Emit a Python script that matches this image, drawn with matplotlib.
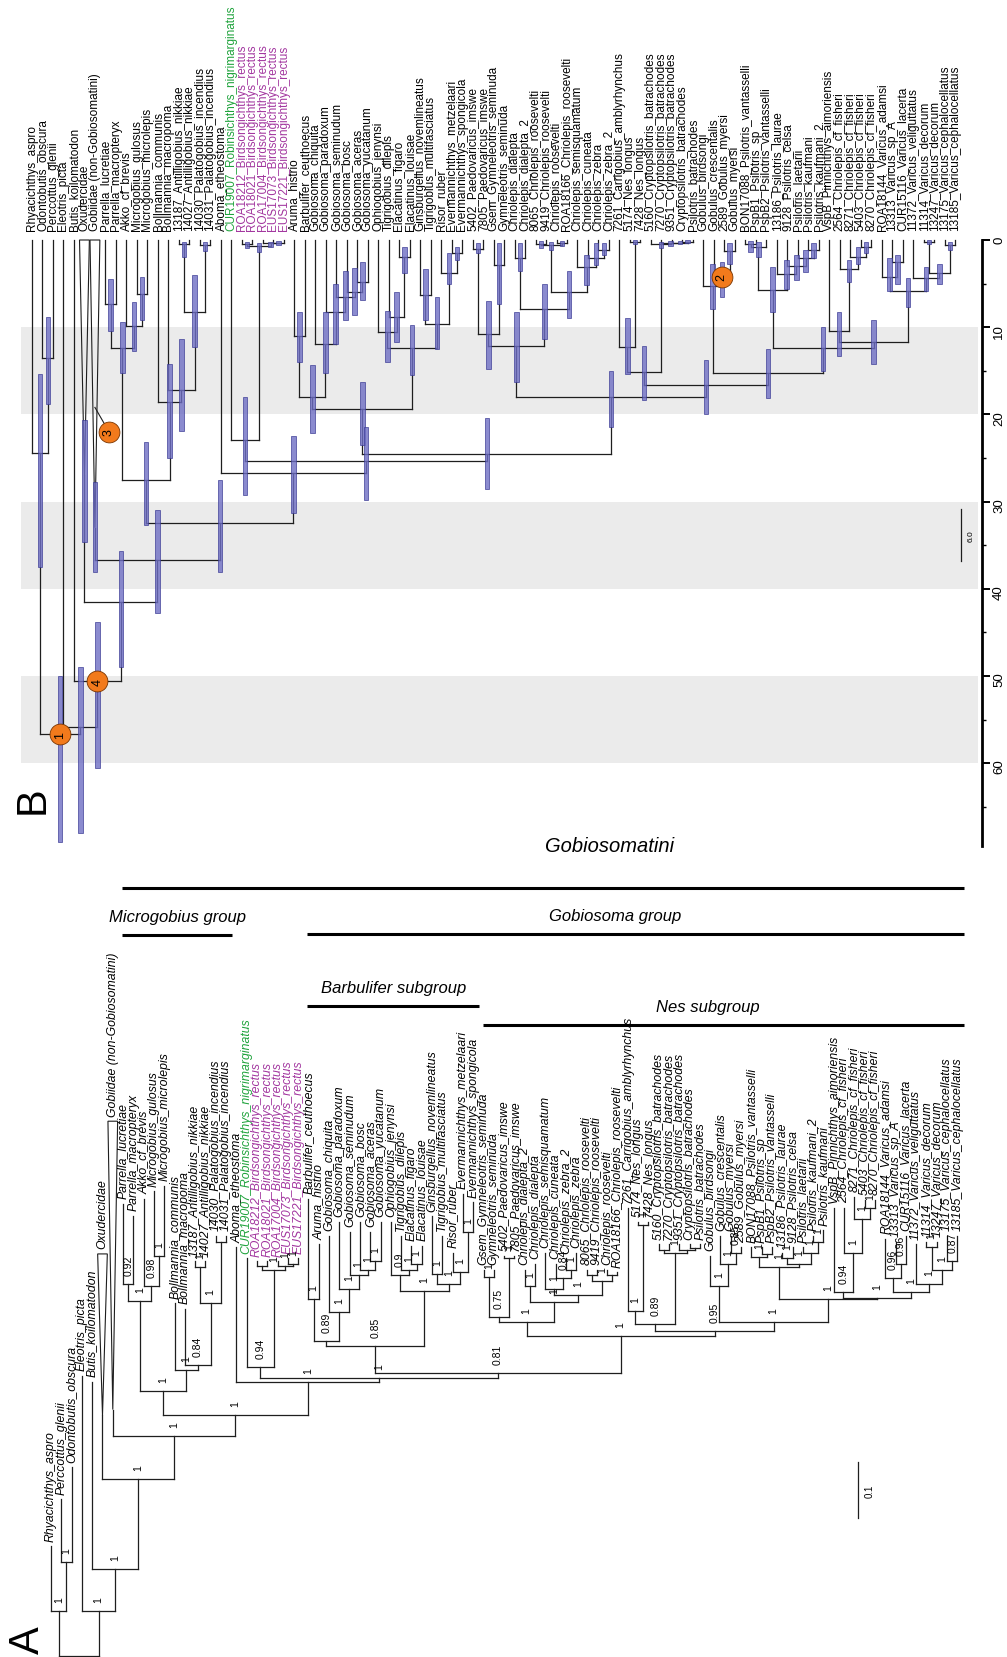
import matplotlib
matplotlib.use("Agg")
import matplotlib.pyplot as plt
from matplotlib.patches import Polygon, Rectangle

plt.rcParams["font.family"] = ["Liberation Sans", "DejaVu Sans"]

# ---------------------------------------------------------------------------
# Panel B: time tree. Internal nodes ")age/hpd_low/hpd_high" (Ma);
# collapsed clades "name:crown_age/hpd_low/hpd_high".
b_outgroups = ("(Rhyacichthys_aspro,(Odontobutis_obscura,Perccottus_glenii)13.5/8.8/18.8)"
               "24.4/15.4/37.5")
b_microgobius = (
    "(((Parrella_lucretiae,Parrella_macropteryx)7.3/4.5/10.4,"
    "(Akko_cf_brevis,(Microgobius_gulosus,Microgobius_microlepis)6.2/4.2/9.2)9.9/7.1/12.7)12.4/9.4/15.3,"
    "(Bollmannia_communis,(Bollmannia_macropoma,((13187_Antilligobius_nikkiae,"
    "14027_Antilligobius_nikkiae)0.5/0.2/1.9,(14030_Palatogobius_incendius,"
    "14031_Palatogobius_incendius)0.6/0.2/1.3)8.2/4/12.3)17.2/11.3/21.9)18.6/14.2/25)27.5/23.2/32.7")
b_birdsong = (
    "(CUR19007_Robinsichthys_nigrimarginatus,((ROA18212_Birdsongichthys_rectus,"
    "ROA18021_Birdsongichthys_rectus)0.5/0.2/0.9,(ROA17004_Birdsongichthys_rectus,"
    "(EUS17073_Birdsongichthys_rectus,EUS17221_Birdsongichthys_rectus)0.3/0.1/0.6)0.4/0.2/0.8)"
    "0.7/0.3/1.4)22.9/18/29.2")
b_barbulifer = (
    "(((Aruma_histrio,Barbulifer_ceuthoecus)11/8.2/14,(Gobiosoma_chiquita,(Gobiosoma_paradoxum,"
    "(Gobiosoma_seminudum,(Gobiosoma_bosc,(Gobiosoma_aceras,Gobiosoma_yucatanum)4.8/2.5/6.9)"
    "6/3.2/8.6)6.5/3.5/9.2)8.3/5.1/11.9)11.9/8.2/15.2)18/14.3/22.1,"
    "((Ophiogobius_jenynsi,(Tigrigobius_dilepis,(Elacatinus_figaro,Elacatinus_louisae)2/0.8/3.8)"
    "8.8/6/11.7)10.6/8.1/14,((Ginsburgellus_novemlineatus,Tigrigobius_multifasciatus)6.3/3.3/9.2,"
    "(Risor_ruber,(Evermannichthys_metzelaari,Evermannichthys_spongicola)1.5/0.8/2.3)3.8/1.5/5)"
    "9.6/6.5/12.5)12.4/9.8/15.5)19.4/16.3/23.5")
b_nes = (
    "((((5402_Paedovaricus_imswe,7805_Paedovaricus_imswe)1/0.3/1.5,"
    "(Gsem_Gymneleotris_seminuda,Gymneleotris_seminuda)2.9/0.3/7.3)10.8/7/14.8,"
    "((Chriolepis_dialepta,Chriolepis_dialepta_2)2.1/0.4/3.6,"
    "(((8065_Chriolepis_roosevelti,9419_Chriolepis_roosevelti)0.5/0.1/0.9,"
    "(Chriolepis_roosevelti,ROA18166_Chriolepis_roosevelti)0.3/0.1/0.7)0.6/0.2/1.1,"
    "(Chriolepis_semisquamatum,(Chriolepis_cuneata,(Chriolepis_zebra,Chriolepis_zebra_2)1.2/0.4/1.7)"
    "2.1/0.4/2.9)3.1/1.7/5.2)6/3.5/9)7.9/5.1/11.3)12.1/8.3/16.3,"
    "(((7261_Carrigobius_amblyrhynchus,(5174_Nes_longus,7428_Nes_longus)0.2/0/0.5)12.3/9/15.4,"
    "(5160_Cryptopsilotris_batrachodes,(7270_Cryptopsilotris_batrachodes,(9351_Cryptopsilotris_batrachodes,"
    "(Cryptopsilotris_batrachodes,Psilotris_batrachodes)0.2/0/0.4)0.3/0.1/0.5)0.4/0.1/0.7)0.5/0.2/0.9)"
    "15.1/12.1/18.3,"
    "((Gobulus_birdsongi,(Gobulus_crescentalis,(2589_Gobulus_myersi,Gobulus_myersi)1.3/0.3/2.7)"
    "4.2/2.5/6.5)5.3/2.8/7.9,"
    "((((BON17088_Psilotris_vantasselli,PspB1_Psilotris_sp)0.5/0.1/1.4,PspB2_Psilotris_vantasselli)"
    "0.8/0.2/1.9,(13186_Psilotris_laurae,(9128_Psilotris_celsa,(Psilotris_laetarii,(Psilotris_kaufmani,"
    "Psilotris_kaufmani_2)1.2/0.4/2.1)2.1/1.2/3.7)3/1.7/4.6)3.9/2.3/5.6)5.75/3.1/8.3,"
    "((VspB_Pinnichthys_aimoriensis,(2564_Chriolepis_cf_fisheri,(8271_Chriolepis_cf_fisheri,"
    "(5403_Chriolepis_cf_fisheri,8270_Chriolepis_cf_fisheri)0.8/0.2/1.5)1.9/0.8/2.7)3.3/2.3/4.8)"
    "10.4/8.3/13.3,"
    "((ROA18144_Varicus_adamsi,(13313_Varicus_sp_A,CUR15116_Varicus_lacerta)2.5/1.7/5)4.2/2.1/5.8,"
    "(11372_Varicus_veliguttatus,((11314_Varicus_decorum,13247_Varicus_decorum)0.2/0/0.5,"
    "(13175_Varicus_cephalocellatus,13185_Varicus_cephalocellatus)0.6/0.2/1.2)3.75/2.7/5)4.4/3.1/5.8)"
    "5.8/4.4/7.7)11.7/9.2/14.2)12.4/10/15)15.2/12.5/18.1)16.6/13.75/19.9)18/15/21.5")

tree_b = (
    "(" + b_outgroups + ",(Eleotris_picta,(Butis_koilomatodon,(Oxudercidae:27/20.6/34.6,"
    "('Gobiidae (non-Gobiosomatini)':33/27.7/38.1,(" + b_microgobius + ",(Aboma_etheostoma,("
    + b_birdsong + ",(" + b_barbulifer + "," + b_nes + ")24.5/20.4/28.5)25.4/21.5/29.8)26.7/22.5/31.3)"
    "32.5/27.5/38.1)36.7/31/42.8)41.5/35.7/49)50.6/43.8/60.6)55.8/49/68)56.7/50/69")

# ---------------------------------------------------------------------------
# Panel A: phylogram. Internal nodes ")depth/posterior" (subst./site from root);
# tips "name:tip_depth", collapsed clades "name:tip_depth/crown_depth".
a_outgroups = ("(Rhyacichthys_aspro:0.196,(Perccottus_glenii:0.28,Odontobutis_obscura:0.337)0.168/1)0.08/1")
a_microgobius = (
    "(((Parrella_lucretiae:0.807,Parrella_macropteryx:0.786)0.664/0.92,"
    "(Akko_cf_brevis:0.816,(Microgobius_gulosus:0.83,Microgobius_microlepis:0.84)0.714/1)0.66/0.98)0.634/1,"
    "(Bollmannia_communis:0.63,(Bollmannia_macropoma:0.62,((13187_Antilligobius_nikkiae:0.705,"
    "14027_Antilligobius_nikkiae:0.705)0.695/1,(14030_Palatogobius_incendius:0.75,"
    "14031_Palatogobius_incendius:0.75)0.74)0.63/1)0.52/0.84)0.51/1)0.473/1")
a_birdsong = (
    "(CUR19007_Robinsichthys_nigrimarginatus:0.71,((ROA18212_Birdsongichthys_rectus:0.705,"
    "ROA18021_Birdsongichthys_rectus:0.705)0.697,(ROA17004_Birdsongichthys_rectus:0.705,"
    "(EUS17073_Birdsongichthys_rectus:0.71,EUS17221_Birdsongichthys_rectus:0.71)0.70/1)0.697/1)"
    "0.69/1)0.516/0.94")
a_barbulifer = (
    "(((Barbulifer_ceuthoecus:0.816,Aruma_histrio:0.735)0.637/1,"
    "(Gobiosoma_chiquita:0.75,(Gobiosoma_paradoxum:0.775,(Gobiosoma_seminudum:0.757,(Gobiosoma_bosc:0.775,"
    "(Gobiosoma_aceras:0.757,Gobiosoma_yucatanum:0.775)0.705/1)0.69/1)0.68/1)0.655/1)0.614/1)0.562/0.89,"
    "((Ophiogobius_jenynsi:0.775,(Tigrigobius_dilepis:0.75,(Elacatinus_figaro:0.732,"
    "Elacatinus_louisae:0.732)0.70/1)0.69/1)0.68/0.9,((Ginsburgellus_novemlineatus:0.785,"
    "Tigrigobius_multifasciatus:0.75)0.682/1,(Risor_ruber:0.72,(Evermannichthys_metzelaari:0.825,"
    "Evermannichthys_spongicola:0.81)0.757/1)0.686/1)0.665/1)0.652/1)0.554/0.85")
a_nes = (
    "((((Gsem_Gymneleotris_seminuda:0.69,Gymneleotris_seminuda:0.69)0.677/1,"
    "(5402_Paedovaricus_imswe:0.715,7805_Paedovaricus_imswe:0.715)0.71/1)0.605/0.75,"
    "((Chriolepis_dialepta_2:0.69,Chriolepis_dialepta:0.70)0.66/1,((Chriolepis_semisquamatum:0.72,"
    "(Chriolepis_cuneata:0.70,(Chriolepis_zebra_2:0.71,Chriolepis_zebra:0.72)0.69/1)0.675/0.84)0.655/1,"
    "((8065_Chriolepis_roosevelti:0.69,9419_Chriolepis_roosevelti:0.69)0.68,(Chriolepis_roosevelti:0.69,"
    "ROA18166_Chriolepis_roosevelti:0.685)0.68)0.67/1)0.645/1)0.632/1)0.596/1,"
    "(((7261_Carrigobius_amblyrhynchus:0.80,(5174_Nes_longus:0.775,7428_Nes_longus:0.775)0.77/1)0.616/1,"
    "((5160_Cryptopsilotris_batrachodes:0.735,7270_Cryptopsilotris_batrachodes:0.735)0.725,"
    "(9351_Cryptopsilotris_batrachodes:0.735,(Cryptopsilotris_batrachodes:0.735,"
    "Psilotris_batrachodes:0.735)0.728)0.725)0.72/1)0.593/0.89,"
    "((Gobulus_birdsongi:0.715,(Gobulus_crescentalis:0.75,(Gobulus_myersi:0.75,"
    "2589_Gobulus_myersi:0.73)0.72/0.85)0.70/1)0.66/1,"
    "(((BON17088_Psilotris_vantasselli:0.73,(PspB1_Psilotris_sp:0.73,PspB2_Psilotris_vantasselli:0.73)0.718)"
    "0.712/1,((13186_Psilotris_laurae:0.72,9128_Psilotris_celsa:0.73)0.71/1,(Psilotris_laetarii:0.73,"
    "(Psilotris_kaufmani_2:0.75,Psilotris_kaufmani:0.76)0.74/1)0.72/1)0.70/1)0.695/1,"
    "((VspB_Pinnichthys_aimoriensis:0.80,(2564_Chriolepis_cf_fisheri:0.80,(8271_Chriolepis_cf_fisheri:0.82,"
    "(5403_Chriolepis_cf_fisheri:0.815,8270_Chriolepis_cf_fisheri:0.815)0.80/1)0.78/1)0.72/1)0.65/0.94,"
    "((ROA18144_Varicus_adamsi:0.745,(13313_Varicus_sp_A:0.74,CUR15116_Varicus_lacerta:0.75)0.70/0.96)"
    "0.675/0.96,(11372_Varicus_veliguttatus:0.735,((11314_Varicus_decorum:0.74,13247_Varicus_decorum:0.74)"
    "0.73/1,(13175_Varicus_cephalocellatus:0.75,13185_Varicus_cephalocellatus:0.75)0.705/0.87)0.69/1)"
    "0.665/1)0.65/1)0.64/1)0.637/1)0.596/1)0.58/0.95)0.571/1")

tree_a = (
    "(" + a_outgroups + ",(Eleotris_picta:0.5,(Butis_koilomatodon:0.49,(Oxudercidae:0.718/0.43,"
    "('Gobiidae (non-Gobiosomatini)':0.955/0.44,(" + a_microgobius + ",(Aboma_etheostoma:0.73,("
    + a_birdsong + ",(" + a_barbulifer + "," + a_nes + ")0.505/0.81)0.496/1)0.49/1)0.43/1)"
    "0.393/1)0.316/1)0.155/1)0.08/1)0")

bands_b = [(10, 20), (30, 40), (50, 60)]
time_ticks = [0, 10, 20, 30, 40, 50, 60]
scale_b = 6.0
scale_a = 0.1
calibrations = [("1", "Rhyacichthys_aspro", "13185_Varicus_cephalocellatus"),
                ("4", "Butis_koilomatodon", "13185_Varicus_cephalocellatus"),
                ("2", "Gobulus_crescentalis", "Gobulus_myersi")]
calib_collapsed = ("3", "Gobiidae (non-Gobiosomatini)", 19.2)
groups = [("Gobiosomatini", "Parrella_lucretiae", "13185_Varicus_cephalocellatus"),
          ("Microgobius group", "Parrella_lucretiae", "14031_Palatogobius_incendius"),
          ("Gobiosoma group", "Barbulifer_ceuthoecus", "13185_Varicus_cephalocellatus"),
          ("Barbulifer subgroup", "Barbulifer_ceuthoecus", "Evermannichthys_spongicola"),
          ("Nes subgroup", "Gsem_Gymneleotris_seminuda", "13185_Varicus_cephalocellatus")]
# layout of the group bars: bar level (depth units) and label shift along x (tips)
group_levels = [1.371, 1.2875, 1.289, 1.161, 1.127]
group_label_shift = [6.5, 0, -2, 0, -1.5]
green_tips = ["CUR19007_Robinsichthys_nigrimarginatus"]
purple_genus = "Birdsongichthys"

LINE = "#1e1e1e"
HPD_FACE = "#6e6ec4"
HPD_EDGE = "#3a3a94"


def parse_tree(text):
    pos = 0

    def annotation():
        nonlocal pos
        start = pos
        while pos < len(text) and text[pos] not in ",()":
            pos += 1
        chunk = text[start:pos]
        return [float(v) for v in chunk.split("/")] if chunk else []

    def clade():
        nonlocal pos
        if text[pos] == "(":
            pos += 1
            kids = [clade()]
            while text[pos] == ",":
                pos += 1
                kids.append(clade())
            pos += 1
            return {"kids": kids, "ann": annotation()}
        if text[pos] == "'":
            end = text.index("'", pos + 1)
            name = text[pos + 1:end]
            pos = end + 1
        else:
            start = pos
            while text[pos] not in ",():":
                pos += 1
            name = text[start:pos]
        ann = []
        if text[pos] == ":":
            pos += 1
            ann = annotation()
        return {"name": name, "ann": ann}

    return clade()


def place(node, counter):
    if "kids" in node:
        for k in node["kids"]:
            place(k, counter)
        node["x"] = (node["kids"][0]["x"] + node["kids"][-1]["x"]) / 2
    else:
        node["x"] = counter[0]
        counter[0] += 1


def tips_of(node):
    if "name" in node:
        return [node]
    out = []
    for k in node["kids"]:
        out += tips_of(k)
    return out


def mrca(node, a, b):
    for k in node.get("kids", []):
        names = [t["name"] for t in tips_of(k)]
        if a in names and b in names:
            return mrca(k, a, b)
    return node


def tip_color(name):
    if name in green_tips:
        return "#1fa33c"
    if purple_genus in name:
        return "#a2369f"
    return "black"


def hpd(ax, x, lo, hi):
    ax.add_patch(Rectangle((x - 0.21, lo), 0.42, hi - lo, facecolor=HPD_FACE, edgecolor=HPD_EDGE,
                           lw=0.6, alpha=0.8, zorder=3, clip_on=False))


def draw_b(ax, node, parent_age=None):
    x, ann = node["x"], node["ann"]
    age = ann[0] if ann else 0.0
    if parent_age is not None:
        ax.plot([x, x], [parent_age, age], color=LINE, lw=0.9, zorder=2, clip_on=False)
    if "kids" in node:
        ax.plot([node["kids"][0]["x"], node["kids"][-1]["x"]], [age, age], color=LINE, lw=0.9,
                zorder=2, clip_on=False)
        for k in node["kids"]:
            draw_b(ax, k, age)
        hpd(ax, x, ann[1], ann[2])
    else:
        if ann:
            ax.add_patch(Polygon([(x, age), (x - 0.47, 0), (x + 0.47, 0)], closed=True, fill=False,
                                 edgecolor=LINE, lw=0.8, zorder=2))
            hpd(ax, x, ann[1], ann[2])
        ax.text(x, -1.1, node["name"], rotation=90, ha="center", va="bottom", fontsize=8.5,
                color=tip_color(node["name"]))


def draw_a(ax, node, parent_depth=None):
    x, ann = node["x"], node["ann"]
    if "kids" in node:
        depth = ann[0]
    else:
        depth = ann[1] if len(ann) > 1 else ann[0]
    if parent_depth is not None:
        ax.plot([x, x], [parent_depth, depth], color=LINE, lw=0.9, zorder=2)
    if "kids" in node:
        ax.plot([node["kids"][0]["x"], node["kids"][-1]["x"]], [depth, depth], color=LINE, lw=0.9,
                zorder=2)
        for k in node["kids"]:
            draw_a(ax, k, depth)
        if len(ann) > 1:
            ax.text(x, depth + 0.016, f"{ann[1]:g}", rotation=90, ha="center", va="bottom",
                    fontsize=7.5)
    else:
        top = ann[0]
        if len(ann) > 1:
            ax.add_patch(Polygon([(x, depth), (x - 0.47, top), (x + 0.47, top)], closed=True,
                                 fill=False, edgecolor=LINE, lw=0.8, zorder=2))
        ax.text(x, top + 0.01, node["name"], rotation=90, ha="center", va="bottom", fontsize=8.8,
                fontstyle="italic", color=tip_color(node["name"]))


root_b = parse_tree(tree_b)
root_a = parse_tree(tree_a)
place(root_b, [0])
place(root_a, [0])
n_tips = len(tips_of(root_b))

W, H = 1007, 1658
fig = plt.figure(figsize=(W / 100, H / 100), dpi=100)

# ---------------- panel B ----------------
axb = fig.add_axes([0, 1 - 847 / H, 982 / W, 847 / H])
axb.patch.set_alpha(0)
axb.set_xlim(-3.05, 90.56)
axb.set_ylim(69.5, -27.64)
for lo, hi in bands_b:
    axb.add_patch(Rectangle((-1.05, lo), n_tips + 2.2, hi - lo, facecolor="#ebebeb", lw=0, zorder=0))
draw_b(axb, root_b)

for label, a, b in calibrations:
    nd = mrca(root_b, a, b)
    axb.plot(nd["x"], nd["ann"][0], "o", ms=15, mfc="#f27a1c", mec="#7a3500", mew=0.6, zorder=6)
    axb.text(nd["x"], nd["ann"][0], label, rotation=90, ha="center", va="center", fontsize=9, zorder=7)
lab, taxon, at_age = calib_collapsed
tx = [t for t in tips_of(root_b) if t["name"] == taxon][0]["x"]
cx, cy = tx + 1.34, at_age + 2.8
axb.plot([tx, cx], [at_age, cy], color=LINE, lw=0.8, zorder=5)
axb.plot(cx, cy, "o", ms=15, mfc="#f27a1c", mec="#7a3500", mew=0.6, zorder=6)
axb.text(cx, cy, lab, rotation=90, ha="center", va="center", fontsize=9, zorder=7)

sx = n_tips - 0.44
axb.plot([sx, sx], [30.8, 30.8 + scale_b], color=LINE, lw=0.9)
axb.text(sx + 1.0, 30.8 + scale_b / 2, f"{scale_b:.1f}", rotation=90, ha="center", va="center",
         fontsize=6)

for side in ["top", "left", "bottom"]:
    axb.spines[side].set_visible(False)
axb.spines["right"].set_bounds(0, 69.5)
axb.spines["right"].set_linewidth(2.0)
axb.xaxis.set_visible(False)
axb.yaxis.set_ticks_position("right")
axb.set_yticks(time_ticks)
axb.set_yticks([t + 5 for t in time_ticks], minor=True)
axb.tick_params(axis="y", which="major", length=6, width=1.4, labelsize=9.5, labelrotation=90, pad=2)
axb.tick_params(axis="y", which="minor", length=3, width=1.0)

# ---------------- panel A ----------------
axa = fig.add_axes([0, 0, 1, 828 / H])
axa.patch.set_alpha(0)
axa.set_xlim(-4.951, 92.82)
axa.set_ylim(-0.0018, 1.4768)
axa.axis("off")
draw_a(axa, root_a)

tip_x = {t["name"]: t["x"] for t in tips_of(root_a)}
for (name, first, last), level, shift in zip(groups, group_levels, group_label_shift):
    x0, x1 = tip_x[first] - 0.1, tip_x[last] + 0.6
    axa.plot([x0, x1], [level, level], color="black", lw=2.2, solid_capstyle="butt")
    big = name == "Gobiosomatini"
    axa.text((x0 + x1) / 2 + shift, level + (0.06 if big else 0.02), name, ha="center", va="bottom",
             fontsize=14.5 if big else 12, fontstyle="italic")

axa.plot([78.4, 78.4], [0.246, 0.246 + scale_a], color=LINE, lw=0.9)
axa.text(79.5, 0.246 + scale_a / 2, f"{scale_a:g}", rotation=90, ha="center", va="center", fontsize=7)

fig.text(33 / W, 1 - 800 / H, "B", rotation=90, ha="center", va="center", fontsize=30)
fig.text(28 / W, 1 - 1640 / H, "A", rotation=90, ha="center", va="center", fontsize=30)

fig.savefig("out.png", dpi=100)
